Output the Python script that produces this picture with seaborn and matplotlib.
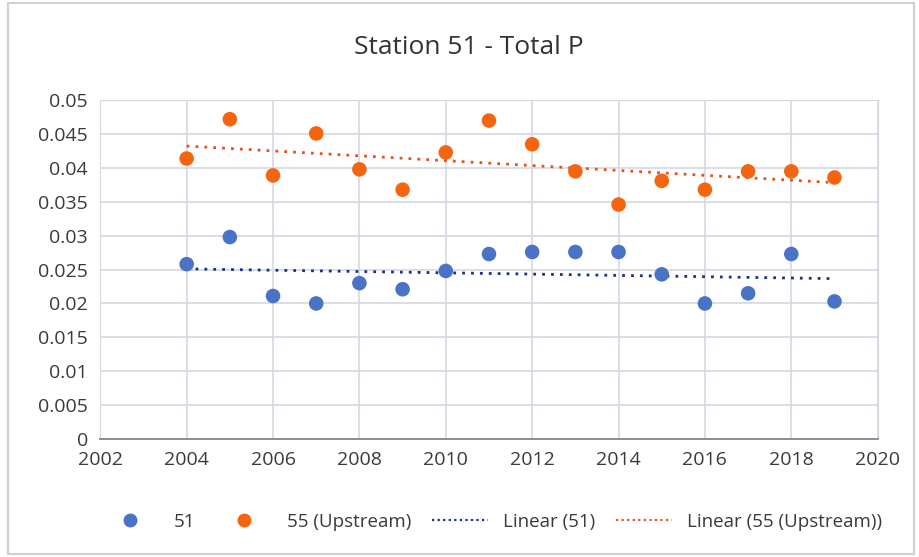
import numpy as np
import pandas as pd
import matplotlib
matplotlib.use("Agg")
import matplotlib.pyplot as plt
import seaborn as sns
from matplotlib.lines import Line2D

# Data
years = [2004, 2005, 2006, 2007, 2008, 2009, 2010, 2011,
         2012, 2013, 2014, 2015, 2016, 2017, 2018, 2019]
station_51 = [0.0258, 0.0298, 0.0211, 0.0200, 0.0230, 0.0221, 0.0248, 0.0273,
              0.0276, 0.0276, 0.0276, 0.0243, 0.0200, 0.0215, 0.0273, 0.0203]
station_55 = [0.0414, 0.0472, 0.0389, 0.0451, 0.0398, 0.0368, 0.0423, 0.0470,
              0.0435, 0.0395, 0.0346, 0.0381, 0.0368, 0.0395, 0.0395, 0.0386]
series_names = ["51", "55 (Upstream)"]
y_ticks = [0, 0.005, 0.01, 0.015, 0.02, 0.025, 0.03, 0.035, 0.04, 0.045, 0.05]
y_tick_labels = ["0", "0.005", "0.01", "0.015", "0.02", "0.025", "0.03",
                 "0.035", "0.04", "0.045", "0.05"]
x_ticks = [2002, 2004, 2006, 2008, 2010, 2012, 2014, 2016, 2018, 2020]

blue = "#4A72C6"
orange = "#F5650F"
blue_trend = "#1C2F8A"
orange_trend = "#E8511A"

sns.set_style("whitegrid")
plt.rcParams["font.family"] = ["Open Sans", "DejaVu Sans"]

df = pd.DataFrame({
    "year": years * 2,
    "value": station_51 + station_55,
    "series": [series_names[0]] * len(years) + [series_names[1]] * len(years),
})

fig = plt.figure(figsize=(9.2, 5.57), dpi=100)
ax = fig.add_axes([0.109, 0.212, 0.845, 0.608])

sns.scatterplot(data=df, x="year", y="value", hue="series",
                palette=[blue, orange], s=110, edgecolor="none",
                ax=ax, legend=False, zorder=3)

# linear trend lines
x_arr = np.array(years)
for vals, col in [(station_51, blue_trend), (station_55, orange_trend)]:
    m, b = np.polyfit(x_arr, np.array(vals), 1)
    ax.plot(x_arr, m * x_arr + b, linestyle=(0, (1, 2.2)), color=col,
            linewidth=2.0, zorder=2)

ax.set_xlim(2002, 2020)
ax.set_ylim(0, 0.05)
ax.set_xticks(x_ticks)
ax.set_xticklabels([str(x) for x in x_ticks])
ax.set_yticks(y_ticks)
ax.set_yticklabels(y_tick_labels)
ax.tick_params(axis="both", labelsize=14, colors="#3a3a3a", length=0, pad=9)
ax.set_xlabel("")
ax.set_ylabel("")
ax.grid(True, color="#d6d8e0", linewidth=1.2)
for side in ["top", "right", "left"]:
    ax.spines[side].set_visible(True)
    ax.spines[side].set_color("#d6d8e0")
ax.spines["bottom"].set_color("#8a8e98")
ax.spines["bottom"].set_linewidth(1.4)

fig.text(0.51, 0.914, "Station 51 - Total P", ha="center", va="center",
         fontsize=19, color="#333333")

handles = [
    Line2D([], [], marker="o", linestyle="none", color=blue, markersize=9),
    Line2D([], [], marker="o", linestyle="none", color=orange, markersize=9),
    Line2D([], [], linestyle=(0, (1, 1.5)), color=blue_trend, linewidth=1.6),
    Line2D([], [], linestyle=(0, (1, 1.5)), color=orange_trend, linewidth=1.6),
]
labels = ["51", "55 (Upstream)", "Linear (51)", "Linear (55 (Upstream))"]
fig.legend(handles, labels, loc="center", bbox_to_anchor=(0.535, 0.063),
           ncol=4, frameon=False, fontsize=13.5, handlelength=3.0,
           columnspacing=1.1, handletextpad=0.8, labelcolor="#3a3a3a")

# outer chart border
fig.patches.append(plt.Rectangle((0.009, 0.005), 0.985, 0.99,
                                 transform=fig.transFigure, fill=False,
                                 edgecolor="#d0d0d0", linewidth=1.5))

fig.savefig("out.png", dpi=100)
